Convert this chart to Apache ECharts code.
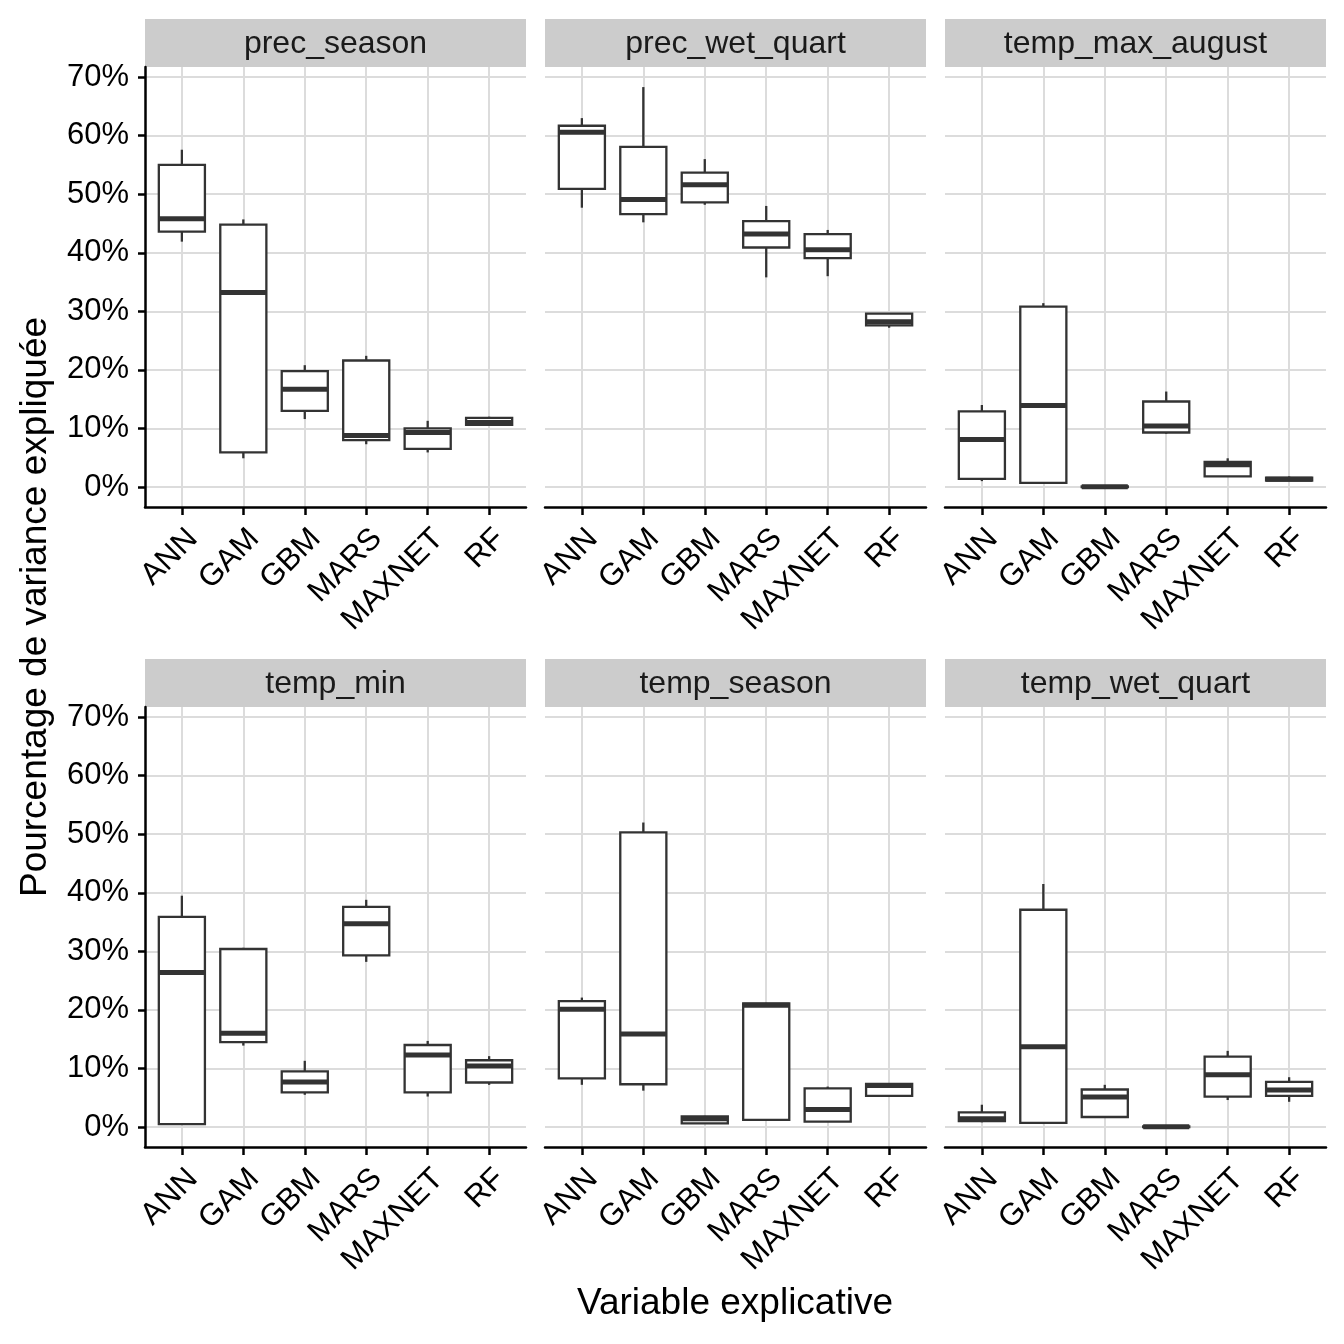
<!DOCTYPE html>
<html>
<head>
<meta charset="utf-8">
<script src="https://cdn.jsdelivr.net/npm/echarts@6/dist/echarts.min.js"></script>
<style>
html,body{margin:0;padding:0;background:#fff;}
#chart{width:1344px;height:1344px;}
</style>
</head>
<body>
<div id="chart"></div>
<script>
const categories = ['ANN', 'GAM', 'GBM', 'MARS', 'MAXNET', 'RF'];
const facets = ['prec_season', 'prec_wet_quart', 'temp_max_august', 'temp_min', 'temp_season', 'temp_wet_quart'];
const yTicks = [0, 10, 20, 30, 40, 50, 60, 70];

// each row: [lower whisker, Q1, median, Q3, upper whisker] in %
const prec_season = [
  [41.9, 43.6, 45.8, 55.0, 57.6],
  [4.9, 5.9, 33.2, 44.8, 45.7],
  [11.6, 13.0, 16.7, 19.8, 20.8],
  [7.3, 8.0, 8.8, 21.6, 22.4],
  [5.9, 6.5, 9.3, 10.0, 11.3],
  [10.5, 10.6, 11.0, 11.8, 12.0]
];
const prec_wet_quart = [
  [47.7, 50.9, 60.6, 61.7, 63.0],
  [45.2, 46.6, 49.1, 58.1, 68.3],
  [48.2, 48.6, 51.6, 53.7, 56.0],
  [35.8, 40.9, 43.2, 45.4, 48.0],
  [36.0, 39.1, 40.5, 43.2, 43.9],
  [27.2, 27.6, 28.2, 29.6, 29.7]
];
const temp_max_august = [
  [1.0, 1.4, 8.1, 12.9, 14.0],
  [0.6, 0.7, 13.9, 30.8, 31.4],
  [0.0, 0.0, 0.05, 0.1, 0.2],
  [9.1, 9.3, 10.4, 14.6, 16.3],
  [1.7, 1.8, 3.8, 4.3, 4.9],
  [1.0, 1.1, 1.3, 1.6, 1.8]
];
const temp_min = [
  [0.5, 0.5, 26.4, 35.9, 39.5],
  [13.9, 14.5, 16.0, 30.4, 30.6],
  [5.5, 5.9, 7.7, 9.5, 11.3],
  [28.2, 29.3, 34.7, 37.6, 38.8],
  [5.2, 5.9, 12.3, 14.0, 14.7],
  [7.2, 7.6, 10.4, 11.4, 12.1]
];
const temp_season = [
  [7.2, 8.3, 20.1, 21.5, 22.1],
  [6.2, 7.3, 15.9, 50.3, 52.0],
  [0.6, 0.6, 1.4, 1.8, 1.9],
  [1.2, 1.2, 20.8, 21.1, 21.2],
  [0.9, 0.9, 3.0, 6.6, 6.9],
  [5.3, 5.3, 7.1, 7.35, 7.4]
];
const temp_wet_quart = [
  [0.8, 1.0, 1.4, 2.5, 3.8],
  [0.5, 0.7, 13.7, 37.1, 41.5],
  [1.7, 1.7, 5.1, 6.4, 7.2],
  [0.0, 0.0, 0.05, 0.1, 0.2],
  [4.6, 5.2, 8.9, 12.0, 13.0],
  [4.3, 5.3, 6.3, 7.7, 8.5]
];
const facetData = [prec_season, prec_wet_quart, temp_max_august, temp_min, temp_season, temp_wet_quart];

const FONT = '"Liberation Sans", Arial, Helvetica, sans-serif';
const colLeft = [145, 545, 945];
const rowTop = [67, 707];
const panelW = 381, panelH = 440, stripH = 48;

const grids = [], xAxes = [], yAxes = [], series = [], graphics = [];

function renderBox(params, api) {
  const i = api.value(0);
  const lo = api.coord([i, api.value(1)]);
  const q1 = api.coord([i, api.value(2)]);
  const md = api.coord([i, api.value(3)]);
  const q3 = api.coord([i, api.value(4)]);
  const hi = api.coord([i, api.value(5)]);
  const bw = api.size([1, 0])[0] * 0.75;
  const x = lo[0];
  const stroke = '#333333';
  return {
    type: 'group',
    children: [
      { type: 'line', shape: { x1: x, y1: hi[1], x2: x, y2: q3[1] }, style: { stroke: stroke, lineWidth: 2.3 } },
      { type: 'line', shape: { x1: x, y1: q1[1], x2: x, y2: lo[1] }, style: { stroke: stroke, lineWidth: 2.3 } },
      { type: 'rect', shape: { x: x - bw / 2, y: q3[1], width: bw, height: q1[1] - q3[1] }, style: { fill: '#ffffff', stroke: stroke, lineWidth: 2.3 } },
      { type: 'line', shape: { x1: x - bw / 2, y1: md[1], x2: x + bw / 2, y2: md[1] }, style: { stroke: stroke, lineWidth: 5, lineCap: 'butt' } }
    ]
  };
}

facets.forEach(function (name, k) {
  const col = k % 3, row = Math.floor(k / 3);
  const left = colLeft[col], top = rowTop[row];
  grids.push({ left: left, top: top, width: panelW, height: panelH, containLabel: false });
  xAxes.push({
    gridIndex: k, type: 'value', min: -0.6, max: 5.6,
    axisLine: { show: true, onZero: false, lineStyle: { color: '#000', width: 2.5 } },
    axisTick: { show: true, length: 8, customValues: [0, 1, 2, 3, 4, 5], lineStyle: { color: '#000', width: 2.5 } },
    axisLabel: {
      show: true, customValues: [0, 1, 2, 3, 4, 5], rotate: 45, margin: 16,
      align: 'right', verticalAlign: 'top',
      fontSize: 31, color: '#000', fontFamily: FONT,
      formatter: function (v) { return categories[Math.round(v)]; }
    },
    splitLine: { show: true, lineStyle: { color: '#DCDCDC', width: 2 } }
  });
  const isLeft = col === 0;
  yAxes.push({
    gridIndex: k, type: 'value', min: -3.42, max: 71.73,
    axisLine: { show: isLeft, onZero: false, lineStyle: { color: '#000', width: 2.5 } },
    axisTick: { show: isLeft, length: 7, customValues: yTicks, lineStyle: { color: '#000', width: 2.5 } },
    axisLabel: {
      show: isLeft, customValues: yTicks, margin: 16,
      fontSize: 31, color: '#000', fontFamily: FONT,
      formatter: function (v) { return v + '%'; }
    },
    splitLine: { show: true, lineStyle: { color: '#DCDCDC', width: 2 } }
  });
  series.push({
    type: 'custom', xAxisIndex: k, yAxisIndex: k,
    renderItem: renderBox,
    encode: { x: 0, y: [1, 2, 3, 4, 5] },
    data: facetData[k].map(function (r, i) { return [i].concat(r); }),
    z: 3
  });
  graphics.push({
    type: 'rect', left: left, top: top - stripH,
    shape: { width: panelW, height: stripH },
    style: { fill: '#CCCCCC' }, silent: true
  });
  graphics.push({
    type: 'text', x: left + panelW / 2, y: top - stripH / 2 + 1,
    style: { text: name, fontSize: 32, fill: '#1a1a1a', fontFamily: FONT, align: 'center', verticalAlign: 'middle' },
    silent: true
  });
});

graphics.push({
  type: 'text', x: 735, y: 1304,
  style: { text: 'Variable explicative', fontSize: 37, fill: '#000', fontFamily: FONT, align: 'center', verticalAlign: 'middle' }
});
graphics.push({
  type: 'text', x: 36, y: 607, rotation: Math.PI / 2,
  style: { text: 'Pourcentage de variance expliquée', fontSize: 37, fill: '#000', fontFamily: FONT, align: 'center', verticalAlign: 'middle' }
});

const chart = echarts.init(document.getElementById('chart'), null, { renderer: 'canvas' });
chart.setOption({
  backgroundColor: '#ffffff',
  animation: false,
  textStyle: { fontFamily: FONT },
  grid: grids,
  xAxis: xAxes,
  yAxis: yAxes,
  series: series,
  graphic: graphics
});
</script>
</body>
</html>
